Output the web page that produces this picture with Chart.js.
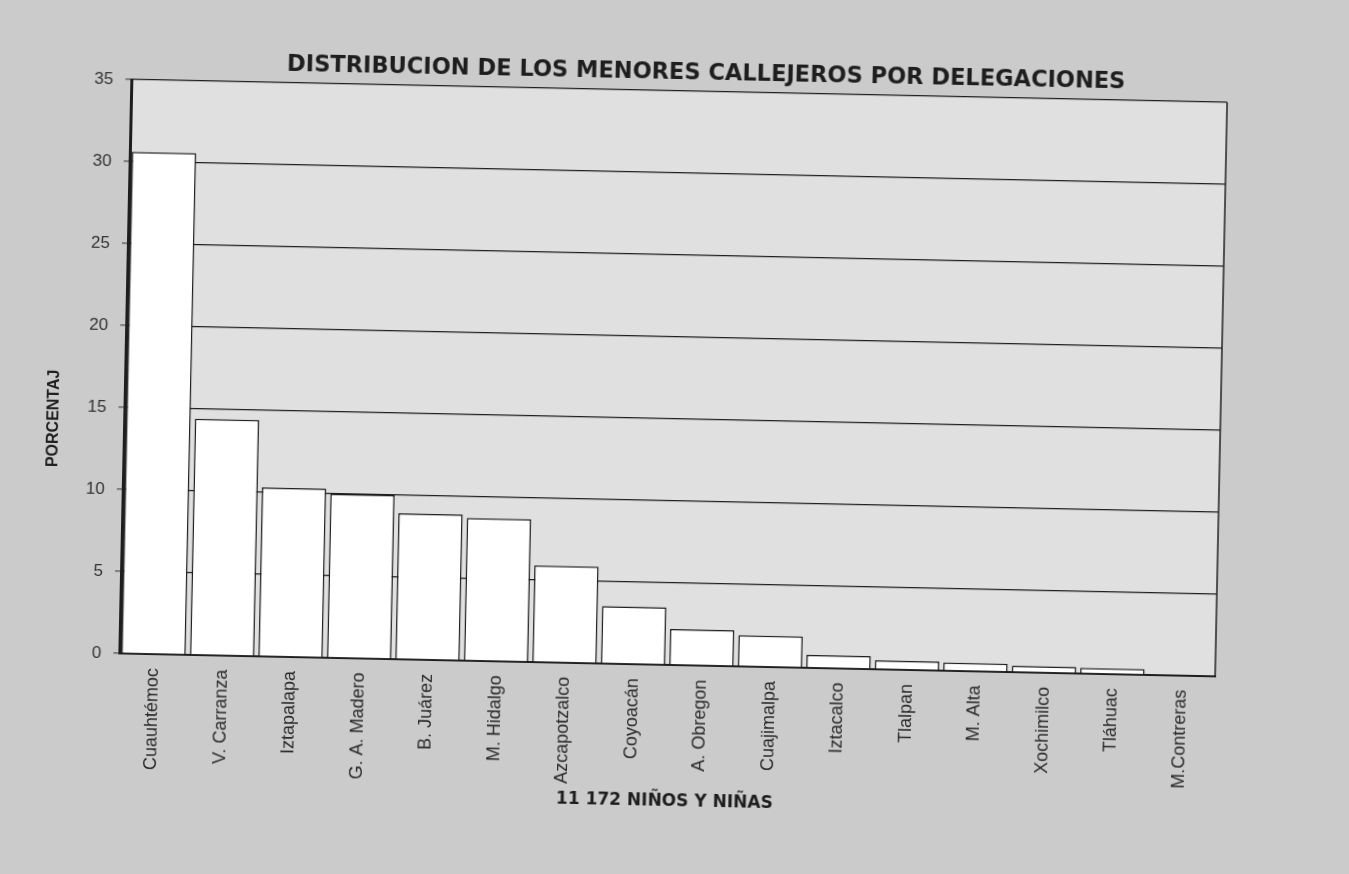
<!DOCTYPE html>
<html>
<head>
<meta charset="utf-8">
<title>Distribución de los menores callejeros por delegaciones</title>
<script src="https://cdn.jsdelivr.net/npm/chart.js@4/dist/chart.umd.min.js"></script>
<style>
    html, body {
        margin: 0;
        padding: 0;
        background: #cbcbcb;
        overflow: hidden;
    }
    #wrap {
        width: 1349px;
        height: 874px;
        transform: rotate(1.2deg);
        transform-origin: 50% 50%;
    }
</style>
</head>
<body>
<div id="wrap"><canvas id="delegacionesChart" width="1349" height="874"></canvas></div>
<script>
// Delegaciones (orden del original)
const delegaciones = [
    'Cuauhtémoc', 'V. Carranza', 'Iztapalapa', 'G. A. Madero', 'B. Juárez',
    'M. Hidalgo', 'Azcapotzalco', 'Coyoacán', 'A. Obregon', 'Cuajimalpa',
    'Iztacalco', 'Tlalpan', 'M. Alta', 'Xochimilco', 'Tláhuac', 'M.Contreras'
];

// Porcentaje de menores por delegación
const porcentajes = [30.6, 14.4, 10.3, 10.0, 8.9, 8.7, 5.9, 3.5, 2.2, 1.9, 0.8, 0.55, 0.5, 0.4, 0.35, 0.05];

// Eje Y
const yMin = 0;
const yMax = 35;
const yStep = 5;

// Fondo del área de trazado + marco derecho
const plotFrame = {
    id: 'plotFrame',
    beforeDraw(chart) {
        const { ctx, chartArea: a } = chart;
        ctx.save();
        ctx.fillStyle = '#e0e0e0';
        ctx.fillRect(a.left, a.top, a.right - a.left, a.bottom - a.top);
        ctx.restore();
    },
    afterDraw(chart) {
        const { ctx, chartArea: a } = chart;
        ctx.save();
        ctx.strokeStyle = '#222';
        ctx.lineWidth = 1.5;
        ctx.beginPath();
        ctx.moveTo(a.right, a.top);
        ctx.lineTo(a.right, a.bottom);
        ctx.stroke();
        ctx.restore();
    }
};

function initChart() {
    const ctx = document.getElementById('delegacionesChart');

    new Chart(ctx, {
        type: 'bar',
        data: {
            labels: delegaciones,
            datasets: [{
                data: porcentajes,
                backgroundColor: '#ffffff',
                borderColor: '#1e1e1e',
                borderWidth: 1.5,
                barPercentage: 0.94,
                categoryPercentage: 1.0,
            }]
        },
        options: {
            responsive: false,
            animation: false,
            layout: {
                padding: { left: 44, right: 129, top: 60, bottom: 62 }
            },
            plugins: {
                legend: { display: false },
                tooltip: { enabled: false },
                title: {
                    display: true,
                    // espacios iniciales: el título del original está corrido a la derecha
                    text: ' '.repeat(17) + 'DISTRIBUCION DE LOS MENORES CALLEJEROS POR DELEGACIONES',
                    color: '#1e1e1e',
                    font: { family: 'DejaVu Sans', size: 22.5, weight: 'bold' },
                    padding: { top: 0, bottom: 4 },
                    align: 'center'
                }
            },
            scales: {
                x: {
                    grid: { display: false },
                    border: { display: true, color: '#1e1e1e', width: 2 },
                    ticks: {
                        color: '#2a2a2a',
                        font: { family: 'Liberation Sans', size: 18 },
                        minRotation: 90,
                        maxRotation: 90,
                        autoSkip: false,
                        padding: 6
                    },
                    title: {
                        display: true,
                        text: '11 172 NIÑOS Y NIÑAS',
                        color: '#1e1e1e',
                        font: { family: 'DejaVu Sans', size: 17, weight: 'bold' },
                        padding: { top: 0, bottom: 0 }
                    },
                    afterFit(scale) {
                        scale.height = 147;
                    }
                },
                y: {
                    min: yMin,
                    max: yMax,
                    grid: {
                        color: '#1e1e1e',
                        lineWidth: 1.3,
                        drawTicks: true,
                        tickLength: 6,
                        tickColor: '#555'
                    },
                    border: { display: true, color: '#1e1e1e', width: 3 },
                    ticks: {
                        stepSize: yStep,
                        color: '#333',
                        font: { family: 'Liberation Sans', size: 17 },
                        padding: 12
                    },
                    title: {
                        display: true,
                        text: 'PORCENTAJ' + ' '.repeat(24),
                        color: '#1e1e1e',
                        font: { family: 'Liberation Sans', size: 16, weight: 'bold' },
                        padding: { top: 0, bottom: 10 }
                    },
                    afterFit(scale) {
                        scale.width = 80;
                    }
                }
            }
        },
        plugins: [plotFrame]
    });
}

document.addEventListener('DOMContentLoaded', initChart);
</script>
</body>
</html>
